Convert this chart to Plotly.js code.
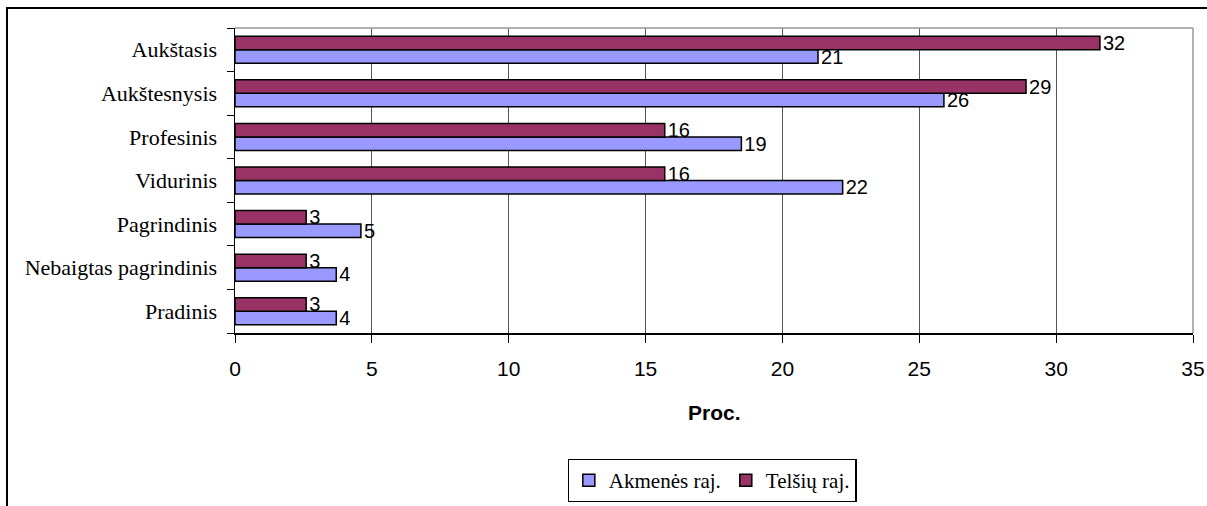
<!DOCTYPE html>
<html>
<head>
<meta charset="utf-8">
<script src="https://cdn.plot.ly/plotly-3.0.1.min.js"></script>
<style>
  html, body { margin: 0; padding: 0; background: #fff; }
  #wrap { position: relative; width: 1207px; height: 506px; overflow: hidden; }
  #frame { position: absolute; left: 6px; top: 7px; width: 1300px; height: 600px;
           border-top: 2px solid #000; border-left: 2px solid #000; pointer-events: none; }
  #chart { position: absolute; left: 0; top: 0; width: 1207px; height: 506px; }
</style>
</head>
<body>
<div id="wrap">
  <div id="chart"></div>
  <div id="frame"></div>
</div>
<script>
// Categories from bottom to top
var categories = ["Pradinis", "Nebaigtas pagrindinis", "Pagrindinis", "Vidurinis", "Profesinis", "Aukštesnysis", "Aukštasis"];
var akmenes = [3.7, 3.7, 4.6, 22.2, 18.5, 25.9, 21.3];
var telsiu  = [2.6, 2.6, 2.6, 15.7, 15.7, 28.9, 31.6];
var seriesNames = ["Akmenės raj.", "Telšių raj."];
var xTicks = [0, 5, 10, 15, 20, 25, 30, 35];
var xTitle = "Proc.";

var labelFont = {family: "Liberation Sans, Arial, sans-serif", size: 20, color: "#000"};

var traces = [
  {
    type: "bar", orientation: "h", name: seriesNames[0],
    y: categories, x: akmenes,
    marker: {color: "#9999FF", line: {color: "#000", width: 1.5}},
    text: akmenes, texttemplate: "%{x:.0f}", textposition: "outside",
    constraintext: "none",
    textfont: labelFont, cliponaxis: false, hoverinfo: "x+y"
  },
  {
    type: "bar", orientation: "h", name: seriesNames[1],
    y: categories, x: telsiu,
    marker: {color: "#993366", line: {color: "#000", width: 1.5}},
    text: telsiu, texttemplate: "%{x:.0f}", textposition: "outside",
    constraintext: "none",
    textfont: labelFont, cliponaxis: false, hoverinfo: "x+y"
  }
];

var layout = {
  width: 1207, height: 506,
  margin: {l: 235, r: 14, t: 28, b: 173, pad: 0, autoexpand: false},
  paper_bgcolor: "#fff", plot_bgcolor: "#fff",
  barmode: "group", bargap: 0.38, bargroupgap: 0,
  showlegend: true,
  legend: {
    orientation: "h", xref: "container", yref: "container",
    x: 0.59, xanchor: "center", y: 0.093, yanchor: "top",
    bordercolor: "#000", borderwidth: 1.2, bgcolor: "#fff",
    font: {family: "Liberation Serif, Times New Roman, serif", size: 21, color: "#000"},
    traceorder: "normal", itemwidth: 30, tracegroupgap: 0
  },
  xaxis: {
    range: [0, 35], tickvals: xTicks, ticktext: xTicks.map(String),
    showgrid: true, gridcolor: "#555", gridwidth: 1,
    showline: true, linecolor: "#000", linewidth: 1.5,
    ticks: "outside", ticklen: 8, tickcolor: "#000", ticklabelstandoff: 8,
    tickfont: {family: "Liberation Sans, Arial, sans-serif", size: 21, color: "#000"},
    zeroline: false, fixedrange: true, automargin: false
  },
  yaxis: {
    type: "category", categoryorder: "array", categoryarray: categories,
    showline: true, linecolor: "#000", linewidth: 1.5,
    ticks: "outside", ticklen: 7, tickcolor: "#000", tickson: "boundaries",
    ticklabelstandoff: 12,
    tickfont: {family: "Liberation Serif, Times New Roman, serif", size: 22, color: "#000"},
    showgrid: false, zeroline: false, fixedrange: true, automargin: false
  },
  annotations: [
    {xref: "paper", yref: "paper", x: 0.5, y: -0.262, xanchor: "center", yanchor: "middle",
     text: "<b>" + xTitle + "</b>", showarrow: false,
     font: {family: "Liberation Sans, Arial, sans-serif", size: 21, color: "#000"}}
  ],
  shapes: [
    {type: "line", xref: "paper", yref: "paper", x0: 0, x1: 1, y0: 1, y1: 1, line: {color: "#999", width: 1.5}},
    {type: "line", xref: "paper", yref: "paper", x0: 1, x1: 1, y0: 0, y1: 1, line: {color: "#999", width: 1.5}}
  ]
};

Plotly.newPlot("chart", traces, layout, {displayModeBar: false, staticPlot: true});
</script>
</body>
</html>
